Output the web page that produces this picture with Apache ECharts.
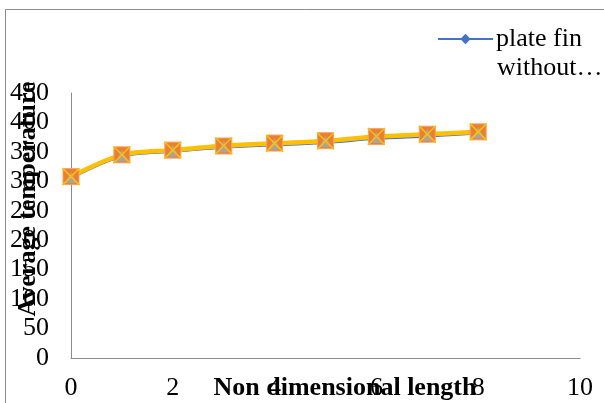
<!DOCTYPE html>
<html>
<head>
<meta charset="utf-8">
<script src="https://cdn.jsdelivr.net/npm/echarts@6/dist/echarts.min.js"></script>
<style>html,body{margin:0;padding:0;background:#fff;}#c{width:604px;height:403px;}</style>
</head>
<body>
<div id="c"></div>
<script>
var xValues = [0, 1, 2, 3, 4, 5, 6, 7, 8];
var seriesBlue = [306, 343, 351, 358, 362, 366, 373, 377, 382];
var seriesOrange = [308, 345, 353, 360, 365, 369, 376, 380, 384];
var seriesGray = [307, 344, 352, 359, 364, 368, 375, 379, 383];
var seriesYellow = [308, 345, 353, 360.5, 364.5, 368.5, 376, 380, 384];
var xTicks = [0, 2, 4, 6, 8, 10];
var yTicks = [0, 50, 100, 150, 200, 250, 300, 350, 400, 450];
var legendName = 'plate fin';
var legendCont = 'without…';
var xTitle = 'Non dimensional length';
var yTitle = 'Average temperature';

function pairs(v){ return xValues.map(function(x,i){ return [x, v[i]]; }); }

var font = 'Liberation Serif, Times New Roman, serif';
var chart = echarts.init(document.getElementById('c'), null, {renderer:'canvas'});
chart.setOption({
  animation: false,
  backgroundColor: '#fff',
  grid: {left: 71, right: 24, top: 93, bottom: 45, containLabel: false},
  legend: {
    data: [legendName],
    left: 437, top: 26, padding: 0,
    itemWidth: 55, itemHeight: 13,
    textStyle: {fontFamily: font, fontSize: 26, color: '#000', padding: [0,0,0,-2]}
  },
  xAxis: {
    type: 'value', min: 0, max: 10, interval: 2,
    axisLine: {lineStyle: {color: '#8c8c8c', width: 1}},
    axisTick: {show: false},
    splitLine: {show: false},
    axisLabel: {fontFamily: font, fontSize: 26, color: '#000', margin: 17,
      formatter: function(v){ return xTicks.indexOf(v) >= 0 ? String(v) : ''; }}
  },
  yAxis: {
    type: 'value', min: 0, max: 450, interval: 50,
    axisLine: {show: true, lineStyle: {color: '#8c8c8c', width: 1}},
    axisTick: {show: false},
    splitLine: {show: false},
    axisLabel: {fontFamily: font, fontSize: 26, color: '#000', margin: 22,
      formatter: function(v){ return yTicks.indexOf(v) >= 0 ? String(v) : ''; }}
  },
  series: [
    {name: legendName, type: 'line', data: pairs(seriesBlue), smooth: 0.3,
     symbol: 'diamond', symbolSize: 13,
     lineStyle: {color: '#4472C4', width: 3}, itemStyle: {color: '#4472C4'}},
    {name: 'orange', type: 'line', data: pairs(seriesOrange), smooth: 0.3,
     symbol: 'rect', symbolSize: 16,
     lineStyle: {color: '#ED7D31', width: 3}, itemStyle: {color: '#ED7D31', borderColor: '#F4A460', borderWidth: 1}},
    {name: 'gray', type: 'line', data: pairs(seriesGray), smooth: 0.3,
     symbol: 'triangle', symbolSize: 12,
     lineStyle: {color: '#A5A5A5', width: 3}, itemStyle: {color: '#A5A5A5'}},
    {name: 'yellow', type: 'line', data: pairs(seriesYellow), smooth: 0.3,
     symbol: 'path://M0,0L10,10M10,0L0,10', symbolSize: 17,
     lineStyle: {color: '#FFC000', width: 4.5},
     itemStyle: {color: 'rgba(0,0,0,0)', borderColor: '#FFC000', borderWidth: 1.5}}
  ],
  graphic: [
    {type: 'rect', shape: {x: 5.5, y: 9.5, width: 700, height: 500},
     style: {fill: 'none', stroke: '#8c8c8c', lineWidth: 1}, silent: true},
    {type: 'text', left: 497, top: 55,
     style: {text: legendCont, font: '26px ' + font, fill: '#000'}},
    {type: 'text', x: 345, y: 388,
     style: {text: xTitle, font: 'bold 26px ' + font, fill: '#000', textAlign: 'center', textVerticalAlign: 'middle'}},
    {type: 'text', x: 28, y: 199, rotation: Math.PI/2,
     style: {text: yTitle, font: 'bold 26px ' + font, fill: '#000', textAlign: 'center', textVerticalAlign: 'middle'}}
  ]
});
</script>
</body>
</html>
